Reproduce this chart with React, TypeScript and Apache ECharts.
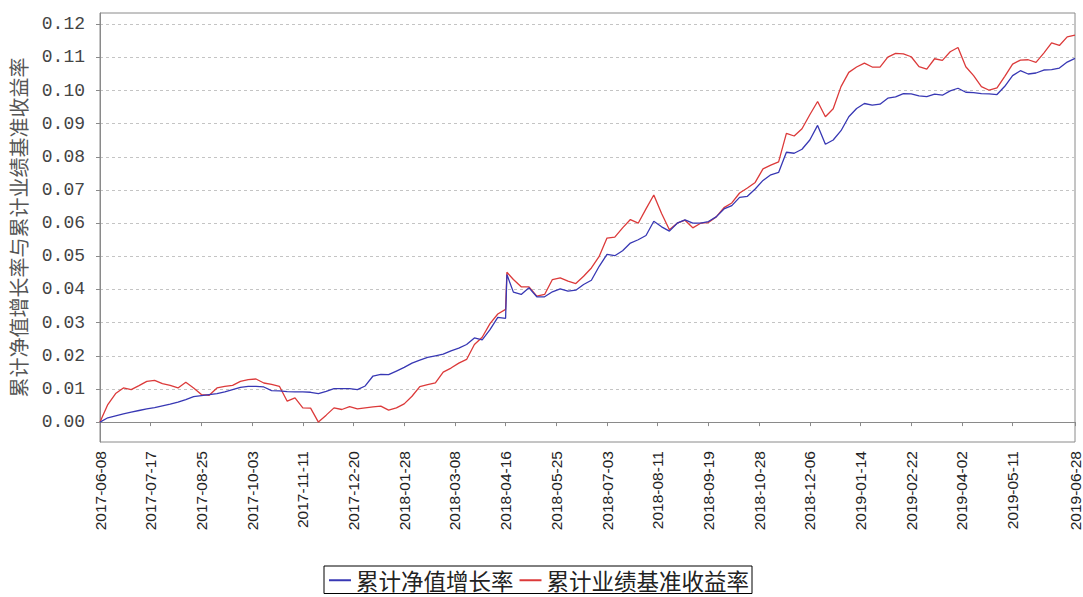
import React, { useEffect, useRef } from "react";
import * as echarts from "echarts";

const START = "2017-06-08";

const dates = [
  "2017-06-08", "2017-06-14", "2017-06-20", "2017-06-26", "2017-07-02", "2017-07-08", "2017-07-14", "2017-07-20",
  "2017-07-26", "2017-08-01", "2017-08-07", "2017-08-13", "2017-08-19", "2017-08-25", "2017-08-31", "2017-09-06",
  "2017-09-12", "2017-09-18", "2017-09-24", "2017-09-30", "2017-10-06", "2017-10-12", "2017-10-18", "2017-10-24",
  "2017-10-30", "2017-11-05", "2017-11-11", "2017-11-17", "2017-11-23", "2017-11-29", "2017-12-05", "2017-12-11",
  "2017-12-17", "2017-12-23", "2017-12-29", "2018-01-04", "2018-01-10", "2018-01-16", "2018-01-22", "2018-01-28",
  "2018-02-03", "2018-02-09", "2018-02-15", "2018-02-21", "2018-02-27", "2018-03-05", "2018-03-11", "2018-03-17",
  "2018-03-23", "2018-03-29", "2018-04-04", "2018-04-10", "2018-04-16", "2018-04-17", "2018-04-22", "2018-04-28",
  "2018-05-04", "2018-05-10", "2018-05-16", "2018-05-22", "2018-05-28", "2018-06-03", "2018-06-09", "2018-06-15",
  "2018-06-21", "2018-06-27", "2018-07-03", "2018-07-09", "2018-07-15", "2018-07-21", "2018-07-27", "2018-08-02",
  "2018-08-08", "2018-08-14", "2018-08-20", "2018-08-26", "2018-09-01", "2018-09-07", "2018-09-13", "2018-09-19",
  "2018-09-25", "2018-10-01", "2018-10-07", "2018-10-13", "2018-10-19", "2018-10-25", "2018-10-31", "2018-11-06",
  "2018-11-12", "2018-11-18", "2018-11-24", "2018-11-30", "2018-12-06", "2018-12-12", "2018-12-18", "2018-12-24",
  "2018-12-30", "2019-01-05", "2019-01-11", "2019-01-17", "2019-01-23", "2019-01-29", "2019-02-04", "2019-02-10",
  "2019-02-16", "2019-02-22", "2019-02-28", "2019-03-06", "2019-03-12", "2019-03-18", "2019-03-24", "2019-03-30",
  "2019-04-05", "2019-04-11", "2019-04-17", "2019-04-23", "2019-04-29", "2019-05-05", "2019-05-11", "2019-05-17",
  "2019-05-23", "2019-05-29", "2019-06-04", "2019-06-10", "2019-06-16", "2019-06-22", "2019-06-28",
];

// 累计净值增长率
const navGrowth = [
  0.0000, 0.0013, 0.0019, 0.0025, 0.0030, 0.0035, 0.0040, 0.0044,
  0.0049, 0.0054, 0.0060, 0.0068, 0.0077, 0.0080, 0.0083, 0.0086,
  0.0091, 0.0098, 0.0105, 0.0108, 0.0108, 0.0106, 0.0095, 0.0094,
  0.0092, 0.0091, 0.0091, 0.0090, 0.0086, 0.0093, 0.0101, 0.0101,
  0.0101, 0.0098, 0.0109, 0.0139, 0.0144, 0.0143, 0.0154, 0.0165,
  0.0178, 0.0187, 0.0195, 0.0200, 0.0205, 0.0215, 0.0223, 0.0234,
  0.0254, 0.0248, 0.0279, 0.0316, 0.0313, 0.0445, 0.0392, 0.0385,
  0.0405, 0.0378, 0.0378, 0.0393, 0.0402, 0.0395, 0.0398, 0.0415,
  0.0428, 0.0470, 0.0506, 0.0502, 0.0517, 0.0540, 0.0550, 0.0563,
  0.0606, 0.0589, 0.0576, 0.0600, 0.0610, 0.0600, 0.0600, 0.0605,
  0.0619, 0.0643, 0.0653, 0.0678, 0.0681, 0.0703, 0.0729, 0.0746,
  0.0753, 0.0814, 0.0811, 0.0823, 0.0851, 0.0895, 0.0838, 0.0851,
  0.0879, 0.0921, 0.0946, 0.0961, 0.0956, 0.0959, 0.0977, 0.0981,
  0.0991, 0.0990, 0.0984, 0.0982, 0.0989, 0.0986, 0.0999, 0.1007,
  0.0995, 0.0994, 0.0991, 0.0990, 0.0988, 0.1013, 0.1045, 0.1060,
  0.1050, 0.1053, 0.1062, 0.1063, 0.1068, 0.1086, 0.1097,
];

// 累计业绩基准收益率
const benchmark = [
  0.0000, 0.0053, 0.0086, 0.0103, 0.0098, 0.0110, 0.0123, 0.0126,
  0.0116, 0.0111, 0.0103, 0.0120, 0.0103, 0.0083, 0.0081, 0.0103,
  0.0108, 0.0111, 0.0123, 0.0128, 0.0130, 0.0118, 0.0114, 0.0108,
  0.0063, 0.0073, 0.0043, 0.0042, 0.0000, 0.0021, 0.0043, 0.0038,
  0.0047, 0.0040, 0.0043, 0.0046, 0.0048, 0.0036, 0.0043, 0.0055,
  0.0078, 0.0107, 0.0113, 0.0118, 0.0151, 0.0163, 0.0178, 0.0189,
  0.0234, 0.0256, 0.0297, 0.0326, 0.0340, 0.0452, 0.0430, 0.0408,
  0.0408, 0.0380, 0.0385, 0.0430, 0.0435, 0.0425, 0.0418, 0.0440,
  0.0465, 0.0500, 0.0555, 0.0558, 0.0586, 0.0611, 0.0600, 0.0643,
  0.0685, 0.0629, 0.0580, 0.0600, 0.0609, 0.0586, 0.0600, 0.0602,
  0.0619, 0.0647, 0.0661, 0.0691, 0.0706, 0.0723, 0.0764, 0.0775,
  0.0785, 0.0871, 0.0863, 0.0885, 0.0927, 0.0967, 0.0921, 0.0945,
  0.1012, 0.1055, 0.1071, 0.1083, 0.1071, 0.1071, 0.1101, 0.1112,
  0.1111, 0.1102, 0.1072, 0.1065, 0.1096, 0.1091, 0.1117, 0.1130,
  0.1072, 0.1045, 0.1012, 0.1001, 0.1008, 0.1043, 0.1080, 0.1092,
  0.1093, 0.1085, 0.1113, 0.1144, 0.1136, 0.1162, 0.1167,
];

const xTickDates = [
  "2017-06-08", "2017-07-17", "2017-08-25", "2017-10-03", "2017-11-11", "2017-12-20", "2018-01-28",
  "2018-03-08", "2018-04-16", "2018-05-25", "2018-07-03", "2018-08-11", "2018-09-19", "2018-10-28",
  "2018-12-06", "2019-01-14", "2019-02-22", "2019-04-02", "2019-05-11", "2019-06-28",
];

const yTicks = [0, 0.01, 0.02, 0.03, 0.04, 0.05, 0.06, 0.07, 0.08, 0.09, 0.1, 0.11, 0.12];

const seriesNames = ["累计净值增长率", "累计业绩基准收益率"];
const yAxisName = "累计净值增长率与累计业绩基准收益率";

const DAY = 86400000;
const t0 = Date.parse(START);
const toDay = (s: string) => Math.round((Date.parse(s) - t0) / DAY);
const fmtDay = (d: number) => new Date(t0 + Math.round(d) * DAY).toISOString().slice(0, 10);

export default function App() {
  const ref = useRef<HTMLDivElement>(null);

  useEffect(() => {
    if (!ref.current) return;
    const chart = echarts.init(ref.current, null, { renderer: "svg" });
    const xTicks = xTickDates.map(toDay);
    const xMax = toDay(dates[dates.length - 1]);

    chart.setOption({
      animation: false,
      backgroundColor: "#ffffff",
      grid: {
        left: 100,
        right: 8,
        top: 13,
        bottom: 155,
        show: true,
        borderColor: "#8a8a8a",
        borderWidth: 1,
        backgroundColor: "#ffffff",
      },
      legend: {
        left: 324,
        top: 566,
        orient: "horizontal",
        padding: [3, 3, 2, 5],
        itemWidth: 22,
        itemHeight: 2,
        itemGap: 6,
        icon: "rect",
        borderColor: "#000000",
        borderWidth: 1,
        textStyle: { fontFamily: "Noto Sans CJK SC", fontSize: 22.5, lineHeight: 22, color: "#222222" },
        data: seriesNames,
      },
      xAxis: {
        type: "value",
        min: 0,
        max: xMax,
        offset: 3,
        axisLine: { show: true, lineStyle: { color: "#8a8a8a" } },
        axisTick: { show: true, customValues: xTicks, length: 4, lineStyle: { color: "#8a8a8a" } },
        axisLabel: {
          customValues: xTicks,
          rotate: 90,
          margin: 6,
          formatter: (v: number) => fmtDay(v),
          fontFamily: "Liberation Sans",
          fontSize: 15.5,
          color: "#222222",
        },
        splitLine: { show: false },
      },
      yAxis: {
        type: "value",
        min: -0.006,
        max: 0.1234,
        offset: 3,
        name: yAxisName,
        nameLocation: "middle",
        nameGap: 69,
        nameTextStyle: { fontFamily: "Noto Sans CJK SC", fontSize: 20, color: "#555555" },
        axisLine: { show: true, lineStyle: { color: "#8a8a8a" } },
        axisTick: { show: true, customValues: yTicks, length: 4, lineStyle: { color: "#8a8a8a" } },
        axisLabel: {
          customValues: yTicks,
          margin: 12,
          formatter: (v: number) => v.toFixed(2),
          fontFamily: "Liberation Mono",
          fontSize: 18,
          color: "#444444",
        },
        splitLine: { show: true, lineStyle: { type: [3, 3], color: "#c4c4c4", width: 1 } },
      },
      series: [
        {
          name: seriesNames[0],
          type: "line",
          data: dates.map((d, i) => [toDay(d), navGrowth[i]]),
          showSymbol: false,
          symbol: "none",
          lineStyle: { color: "#3838b4", width: 1.3 },
          itemStyle: { color: "#3838b4" },
          z: 3,
        },
        {
          name: seriesNames[1],
          type: "line",
          data: dates.map((d, i) => [toDay(d), benchmark[i]]),
          showSymbol: false,
          symbol: "none",
          lineStyle: { color: "#dc3a3a", width: 1.3 },
          itemStyle: { color: "#dc3a3a" },
          z: 2,
        },
      ],
    });

    return () => chart.dispose();
  }, []);

  return (
    <div
      ref={ref}
      style={{ position: "fixed", left: 0, top: 0, width: 1083, height: 597, background: "#fff" }}
    />
  );
}
